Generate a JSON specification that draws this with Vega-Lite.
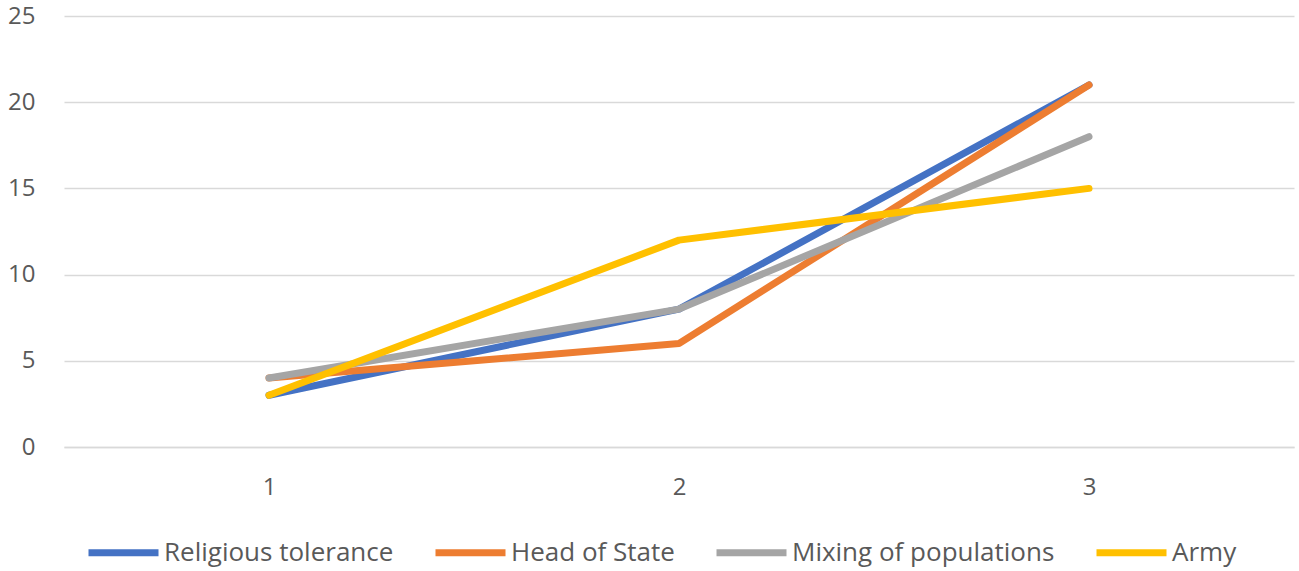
{
  "$schema": "https://vega.github.io/schema/vega-lite/v6.json",
  "width": 1230,
  "height": 431,
  "autosize": {"type": "none"},
  "padding": {"left": 64, "top": 16, "right": 5, "bottom": 124},
  "background": "white",
  "config": {
    "view": {"stroke": null},
    "font": "Open Sans",
    "axis": {"labelFont": "Open Sans", "labelColor": "#595959", "labelFontSize": 24}
  },
  "data": {
    "values": [
      {"x": "1", "series": "Religious tolerance", "value": 3},
      {"x": "2", "series": "Religious tolerance", "value": 8},
      {"x": "3", "series": "Religious tolerance", "value": 21},
      {"x": "1", "series": "Head of State", "value": 4},
      {"x": "2", "series": "Head of State", "value": 6},
      {"x": "3", "series": "Head of State", "value": 21},
      {"x": "1", "series": "Mixing of populations", "value": 4},
      {"x": "2", "series": "Mixing of populations", "value": 8},
      {"x": "3", "series": "Mixing of populations", "value": 18},
      {"x": "1", "series": "Army", "value": 3},
      {"x": "2", "series": "Army", "value": 12},
      {"x": "3", "series": "Army", "value": 15}
    ]
  },
  "mark": {"type": "line", "strokeWidth": 7, "strokeCap": "round", "strokeJoin": "round"},
  "encoding": {
    "x": {
      "field": "x",
      "type": "ordinal",
      "title": null,
      "scale": {"type": "point", "padding": 0.5},
      "axis": {
        "labelAngle": 0,
        "ticks": false,
        "labelPadding": 28,
        "domainColor": "#D9D9D9",
        "domainWidth": 1.5,
        "grid": false
      }
    },
    "y": {
      "field": "value",
      "type": "quantitative",
      "title": null,
      "scale": {"domain": [0, 25], "nice": false},
      "axis": {
        "values": [0, 5, 10, 15, 20, 25],
        "ticks": false,
        "domain": false,
        "labelPadding": 29,
        "gridColor": "#D9D9D9",
        "gridWidth": 1.5
      }
    },
    "color": {
      "field": "series",
      "type": "nominal",
      "title": null,
      "sort": ["Religious tolerance", "Head of State", "Mixing of populations", "Army"],
      "scale": {
        "domain": ["Religious tolerance", "Head of State", "Mixing of populations", "Army"],
        "range": ["#4472C4", "#ED7D31", "#A5A5A5", "#FFC000"]
      },
      "legend": {
        "orient": "none",
        "direction": "horizontal",
        "legendX": 21,
        "legendY": 498,
        "symbolType": "stroke",
        "symbolSize": 4900,
        "symbolStrokeWidth": 7,
        "labelFontSize": 26,
        "labelColor": "#595959",
        "labelFont": "Open Sans",
        "labelOffset": 2,
        "columnPadding": 27,
        "labelLimit": 400
      }
    }
  }
}
